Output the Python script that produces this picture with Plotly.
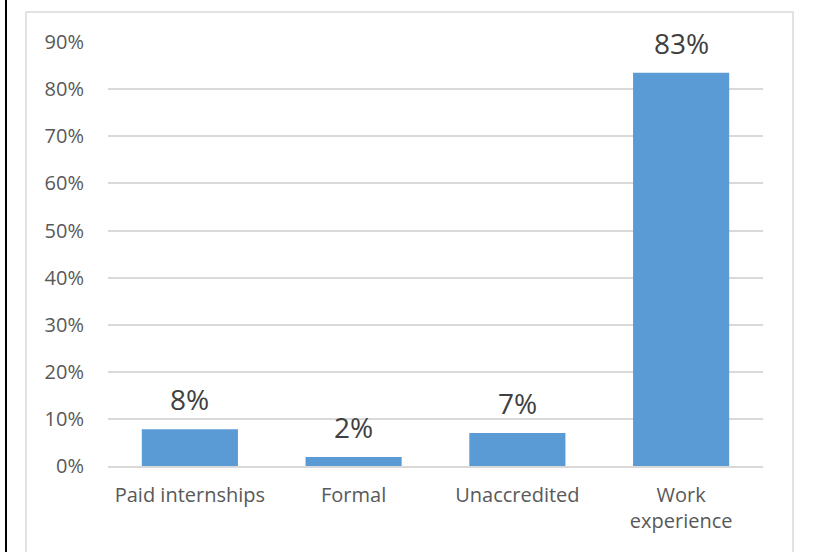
import plotly.graph_objects as go

categories = ["Paid internships", "Formal", "Unaccredited", "Work<br>experience"]
values = [0.078, 0.019, 0.07, 0.835]
tick_vals = [i / 10 for i in range(10)]
tick_text = [f"{i*10}%" for i in range(10)]
bar_labels = ["8%", "2%", "7%", "83%"]

W, H = 816, 552
L, R, T, B = 108, 763, 42, 466
pw, ph = R - L, B - T

def px(x):
    return (x - L) / pw

def py(y):
    return (B - y) / ph

fig = go.Figure(go.Bar(
    x=categories, y=values,
    marker=dict(color="#5b9bd5", line=dict(width=0)),
    width=0.587,
))

for c, v, t in zip(categories, values, bar_labels):
    fig.add_annotation(x=c, y=v, text=t, showarrow=False, yanchor="bottom",
                       yshift=9, font=dict(size=28, color="#404040", family="Open Sans"))

fig.update_layout(
    width=W, height=H,
    margin=dict(l=L, r=W - R, t=T, b=H - B),
    paper_bgcolor="white", plot_bgcolor="white",
    font=dict(family="Open Sans", color="#595959", size=20),
    showlegend=False,
    shapes=[
        dict(type="rect", xref="paper", yref="paper",
             x0=px(26), x1=px(793), y0=py(600), y1=py(12),
             line=dict(color="#d9d9d9", width=1.5), layer="below"),
        dict(type="line", xref="paper", yref="paper",
             x0=px(6), x1=px(6), y0=py(560), y1=py(-10),
             line=dict(color="black", width=2)),
    ],
)
fig.update_yaxes(range=[0, 0.9005], tickvals=tick_vals, ticktext=tick_text,
                 showgrid=True, gridcolor="#d9d9d9", gridwidth=1.5,
                 zeroline=False, showline=False, ticks="",
                 ticklabelstandoff=23, tickfont=dict(size=20, color="#595959"))
fig.update_xaxes(showline=True, linecolor="#d9d9d9", linewidth=1.5,
                 ticks="", ticklabelstandoff=10,
                 tickfont=dict(size=20, color="#595959"))

fig.write_html("out.html")
